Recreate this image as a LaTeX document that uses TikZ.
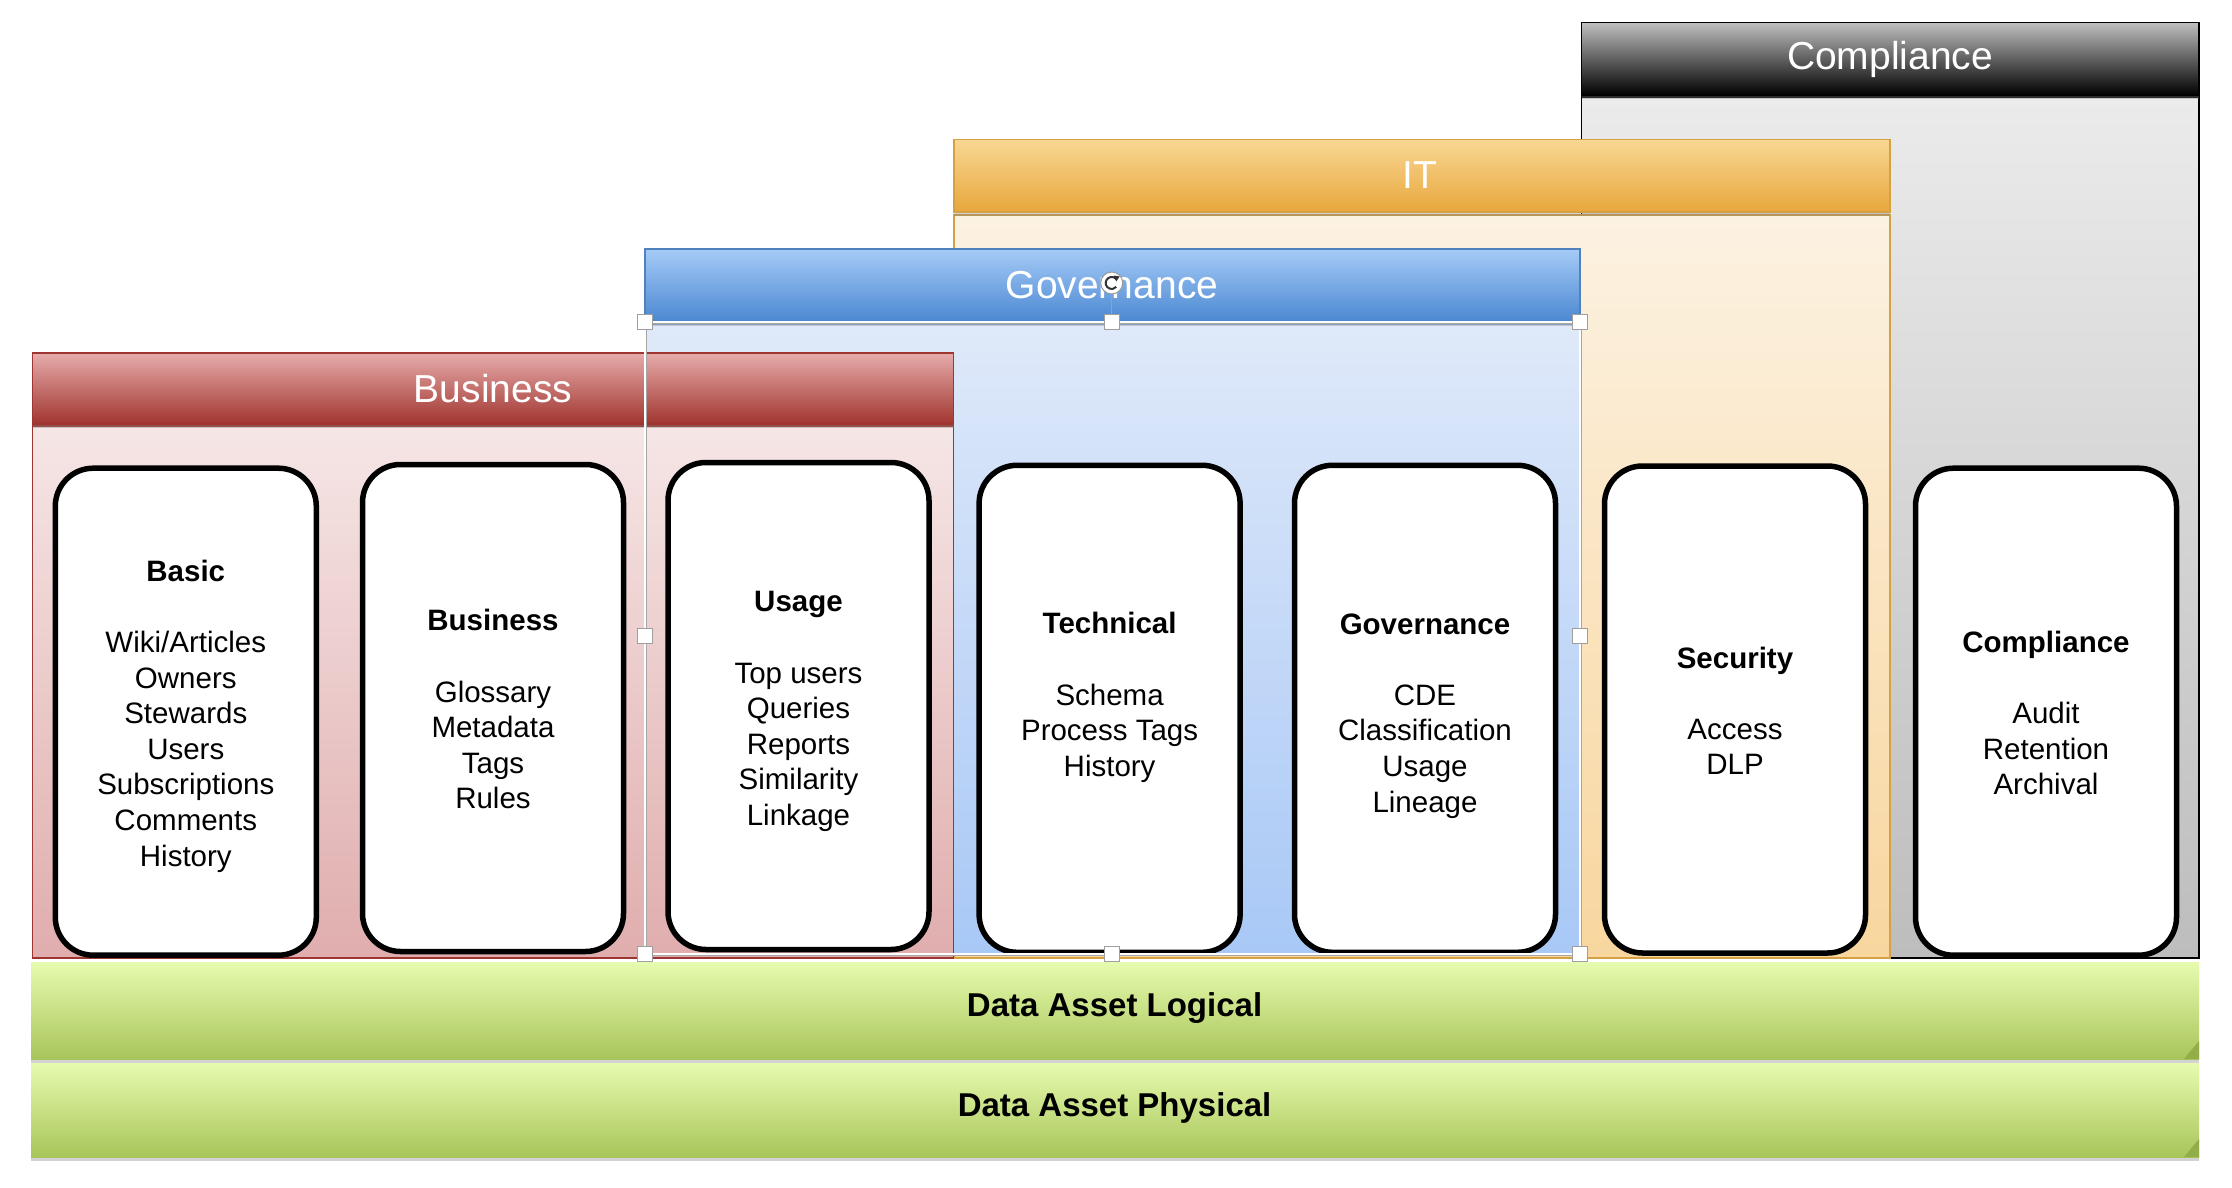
\documentclass[tikz,border=0pt]{standalone}
\usepackage{fontspec}
\setmainfont{Liberation Sans}
\usetikzlibrary{shadows}
\definecolor{bizTop}{HTML}{E6ACAB}
\definecolor{bizMid}{HTML}{D08F8C}
\definecolor{bizBot}{HTML}{A1352F}
\definecolor{bizLine}{HTML}{9E3530}
\definecolor{bizBodyTop}{HTML}{F6E6E6}
\definecolor{bizBodyBot}{HTML}{E0ADAD}
\definecolor{govTop}{HTML}{A6CBF7}
\definecolor{govMid}{HTML}{88B4EB}
\definecolor{govBot}{HTML}{4A87D1}
\definecolor{govLine}{HTML}{4F81BD}
\definecolor{govBodyTop}{HTML}{DFE9F9}
\definecolor{govBodyBot}{HTML}{A8C8F6}
\definecolor{itTop}{HTML}{F8D793}
\definecolor{itMid}{HTML}{F3C977}
\definecolor{itBot}{HTML}{E8A73C}
\definecolor{itLine}{HTML}{D4A245}
\definecolor{itBodyTop}{HTML}{FCF2E2}
\definecolor{itBodyBot}{HTML}{F8D69E}
\definecolor{cmpTop}{HTML}{BEBEBE}
\definecolor{cmpMid}{HTML}{858585}
\definecolor{cmpBot}{HTML}{000000}
\definecolor{cmpBodyTop}{HTML}{EBEBEB}
\definecolor{cmpBodyBot}{HTML}{BDBDBD}
\definecolor{grnTop}{HTML}{E7FBAF}
\definecolor{grnMid}{HTML}{DDF5A0}
\definecolor{grnBot}{HTML}{A8C55A}
\definecolor{grnFold}{HTML}{93AD48}
\begin{document}
\begin{tikzpicture}[x=1pt,y=-1pt,
  hdrtext/.style={text=white, font=\fontsize{39}{47}\selectfont, inner sep=0pt},
  hdrshadow/.style={drop shadow={opacity=0.35, shadow xshift=0pt, shadow yshift=-4pt}},
  cardbox/.style={draw=black, line width=5.5pt, fill=white, rounded corners=38pt,
    minimum width=261pt, minimum height=487pt, inner sep=0pt,
    drop shadow={opacity=0.25, shadow xshift=1pt, shadow yshift=-2pt}},
  cardtext/.style={align=center, inner sep=0pt, font=\fontsize{29.5}{35.6}\selectfont},
  bartext/.style={font=\bfseries\fontsize{33}{39}\selectfont, inner sep=0pt},
  barbox/.style={top color=grnTop, middle color=grnMid, bottom color=grnBot, draw=none,
    drop shadow={opacity=0.35, shadow xshift=0pt, shadow yshift=-4pt}},
  handlebox/.style={draw=gray!75, fill=white, line width=0.9pt, minimum size=15pt, inner sep=0pt}
]
\fill[white] (0,0) rectangle (2232,1188);
\useasboundingbox (0,0) rectangle (2232,1188);

% ---------- Compliance panel ----------
\draw[top color=cmpBodyTop, bottom color=cmpBodyBot, draw=black, line width=1.2pt]
  (1581.5,97) rectangle (2199,958);
\draw[top color=cmpTop, middle color=cmpMid, bottom color=cmpBot, draw=black, line width=1.2pt, hdrshadow]
  (1581.5,22.8) rectangle (2199,95.4);
\node[hdrtext] (cmphead) at (1890,59) {Compliance};

% ---------- IT panel ----------
\draw[top color=itBodyTop, bottom color=itBodyBot, draw=itLine, line width=1.2pt]
  (954,215) rectangle (1890,958);
\draw[top color=itTop, middle color=itMid, bottom color=itBot, draw=itLine, line width=1.2pt, hdrshadow]
  (954,139.5) rectangle (1890,212);
\node[hdrtext] (ithead) at (1420,175.5) {IT};

% ---------- Governance panel ----------
\draw[top color=govBodyTop, bottom color=govBodyBot, draw=govLine!60, line width=1.2pt]
  (645,324) rectangle (1580,954);
\draw[top color=govTop, middle color=govMid, bottom color=govBot, draw=govLine, line width=1.2pt, hdrshadow]
  (645,249) rectangle (1580,322);
\node[hdrtext] (govhead) at (1112,285.5) {Governance};

% ---------- Business panel ----------
\draw[top color=bizBodyTop, bottom color=bizBodyBot, draw=bizLine, line width=1.2pt]
  (32.7,426) rectangle (953.7,958);
\draw[top color=bizTop, middle color=bizMid, bottom color=bizBot, draw=bizLine, line width=1.2pt, hdrshadow]
  (32.7,353) rectangle (953.7,424);
\node[hdrtext] (bizhead) at (493,388.5) {Business};

% ---------- Cards ----------
\node[cardbox] (cbasic) at (185.8,711.7) {};
\node[cardbox] (cbusiness) at (493,708) {};
\node[cardbox] (cusage) at (798.5,706) {};
\node[cardbox] (ctech) at (1109.6,708.8) {};
\node[cardbox] (cgov) at (1425,708.8) {};
\node[cardbox] (csec) at (1735,709.5) {};
\node[cardbox] (ccmp) at (2046,711.7) {};

\node[cardtext] (tbasic) at (185.8,716) {\textbf{Basic}\\[35.6pt]Wiki/Articles\\Owners\\Stewards\\Users\\Subscriptions\\Comments\\History};
\node[cardtext] (tbusiness) at (493,709.4) {\textbf{Business}\\[35.6pt]Glossary\\Metadata\\Tags\\Rules};
\node[cardtext] (tusage) at (798.5,711.7) {\textbf{Usage}\\[35.6pt]Top users\\Queries\\Reports\\Similarity\\Linkage};
\node[cardtext] (ttech) at (1109.6,697.4) {\textbf{Technical}\\[35.6pt]Schema\\Process Tags\\History};
\node[cardtext] (tgov) at (1425,715.9) {\textbf{Governance}\\[35.6pt]CDE\\Classification\\Usage\\Lineage};
\node[cardtext] (tsec) at (1735,710.9) {\textbf{Security}\\[35.6pt]Access\\DLP};
\node[cardtext] (tcmp) at (2046,713.1) {\textbf{Compliance}\\[35.6pt]Audit\\Retention\\Archival};

% ---------- Data asset bars ----------
\path[barbox] (31,962) rectangle (2199,1059);
\fill[grnFold] (2199,1041) -- (2199,1059) -- (2184,1059) -- cycle;
\node[bartext] (logical) at (1114.6,1008) {Data Asset Logical};
\path[barbox] (31,1063) rectangle (2199,1157);
\fill[grnFold] (2199,1139) -- (2199,1157) -- (2184,1157) -- cycle;
\node[bartext] (physical) at (1114.6,1108) {Data Asset Physical};

% ---------- Selection frame of the Governance panel ----------
\draw[gray!70, line width=3pt] (645,322) rectangle (1580,954);
\draw[white, line width=1.4pt] (645,322) rectangle (1580,954);
\node[handlebox] (hnw) at (645,322) {};
\node[handlebox] (hn) at (1111.7,322) {};
\node[handlebox] (hne) at (1580,322) {};
\node[handlebox] (hw) at (645,636) {};
\node[handlebox] (he) at (1580,636) {};
\node[handlebox] (hsw) at (645,954) {};
\node[handlebox] (hs) at (1111.7,954) {};
\node[handlebox] (hse) at (1580,954) {};
\node[draw=gray!80, fill=white, circle, line width=1pt, minimum size=22pt, inner sep=0pt] (rot) at (1111.7,283) {};
\draw[gray!75, line width=1pt] (rot.south) -- (hn.north);
\draw[gray!40!black, line width=2pt] (rot.center) ++(40:6pt) arc[start angle=40, end angle=320, radius=6pt];
\fill[gray!40!black] (rot.center) ++(2pt,7.5pt) -- ++(6pt,-1pt) -- ++(-3.5pt,-5pt) -- cycle;
\end{tikzpicture}
\end{document}
